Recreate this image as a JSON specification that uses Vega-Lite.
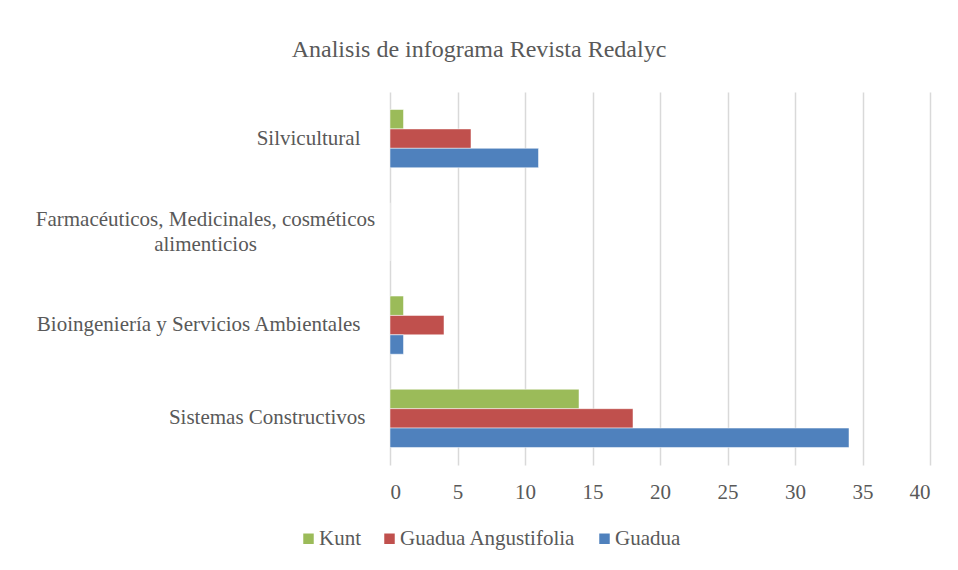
{
  "$schema": "https://vega.github.io/schema/vega-lite/v6.json",
  "autosize": "none",
  "width": 540,
  "height": 373,
  "padding": {"left": 390, "top": 92, "right": 28, "bottom": 105},
  "background": "white",
  "title": {
    "text": "Analisis de infograma Revista Redalyc",
    "font": "Liberation Serif",
    "fontSize": 24,
    "fontWeight": "normal",
    "color": "#595959",
    "anchor": "middle",
    "frame": "group",
    "offset": 30,
    "dx": -181
  },
  "data": {
    "values": [
      {"categoria": "Silvicultural", "serie": "Kunt", "valor": 1},
      {"categoria": "Silvicultural", "serie": "Guadua Angustifolia", "valor": 6},
      {"categoria": "Silvicultural", "serie": "Guadua", "valor": 11},
      {"categoria": "Farmacéuticos, Medicinales, cosméticos alimenticios", "serie": "Kunt", "valor": 0},
      {"categoria": "Farmacéuticos, Medicinales, cosméticos alimenticios", "serie": "Guadua Angustifolia", "valor": 0},
      {"categoria": "Farmacéuticos, Medicinales, cosméticos alimenticios", "serie": "Guadua", "valor": 0},
      {"categoria": "Bioingeniería y Servicios Ambientales", "serie": "Kunt", "valor": 1},
      {"categoria": "Bioingeniería y Servicios Ambientales", "serie": "Guadua Angustifolia", "valor": 4},
      {"categoria": "Bioingeniería y Servicios Ambientales", "serie": "Guadua", "valor": 1},
      {"categoria": "Sistemas Constructivos", "serie": "Kunt", "valor": 14},
      {"categoria": "Sistemas Constructivos", "serie": "Guadua Angustifolia", "valor": 18},
      {"categoria": "Sistemas Constructivos", "serie": "Guadua", "valor": 34}
    ]
  },
  "mark": {"type": "bar", "stroke": "white", "strokeWidth": 0.5},
  "encoding": {
    "y": {
      "field": "categoria",
      "type": "nominal",
      "sort": ["Silvicultural", "Farmacéuticos, Medicinales, cosméticos alimenticios", "Bioingeniería y Servicios Ambientales", "Sistemas Constructivos"],
      "scale": {"paddingInner": 0.376, "paddingOuter": 0.188},
      "axis": {
        "title": null,
        "domain": false,
        "ticks": false,
        "grid": false,
        "labelFont": "Liberation Serif",
        "labelFontSize": 21,
        "labelColor": "#595959",
        "labelLimit": 420,
        "labelLineHeight": 25,
        "labelExpr": "datum.label == 'Farmacéuticos, Medicinales, cosméticos alimenticios' ? ['Farmacéuticos, Medicinales, cosméticos', 'alimenticios'] : datum.label",
        "labelAlign": {"condition": {"test": "datum.value == 'Farmacéuticos, Medicinales, cosméticos alimenticios'", "value": "center"}, "value": "right"},
        "labelPadding": {"condition": [
          {"test": "datum.value == 'Farmacéuticos, Medicinales, cosméticos alimenticios'", "value": 185},
          {"test": "datum.value == 'Sistemas Constructivos'", "value": 25}
        ], "value": 30},
        "labelOffset": {"condition": {"test": "datum.value == 'Farmacéuticos, Medicinales, cosméticos alimenticios'", "value": -12}, "value": 0}
      }
    },
    "yOffset": {
      "field": "serie",
      "type": "nominal",
      "sort": ["Kunt", "Guadua Angustifolia", "Guadua"],
      "scale": {"paddingInner": 0, "paddingOuter": 0}
    },
    "x": {
      "field": "valor",
      "type": "quantitative",
      "scale": {"domain": [0, 40], "nice": false},
      "axis": {
        "title": null,
        "values": [0, 5, 10, 15, 20, 25, 30, 35, 40],
        "domain": false,
        "ticks": false,
        "grid": true,
        "gridColor": "#d9d9d9",
        "gridWidth": 1.5,
        "labelFont": "Liberation Serif",
        "labelFontSize": 21,
        "labelColor": "#595959",
        "labelPadding": 16
      }
    },
    "color": {
      "field": "serie",
      "type": "nominal",
      "sort": ["Kunt", "Guadua Angustifolia", "Guadua"],
      "scale": {"domain": ["Kunt", "Guadua Angustifolia", "Guadua"], "range": ["#9BBB59", "#C0504D", "#4F81BD"]},
      "legend": {
        "title": null,
        "orient": "none",
        "legendX": -92,
        "legendY": 436,
        "direction": "horizontal",
        "symbolType": "square",
        "symbolSize": 110,
        "symbolStrokeWidth": 0,
        "labelFont": "Liberation Serif",
        "labelFontSize": 21,
        "labelColor": "#595959",
        "labelLimit": 300,
        "columnPadding": 18,
        "labelOffset": 0
      }
    }
  },
  "config": {
    "view": {"stroke": null}
  }
}
